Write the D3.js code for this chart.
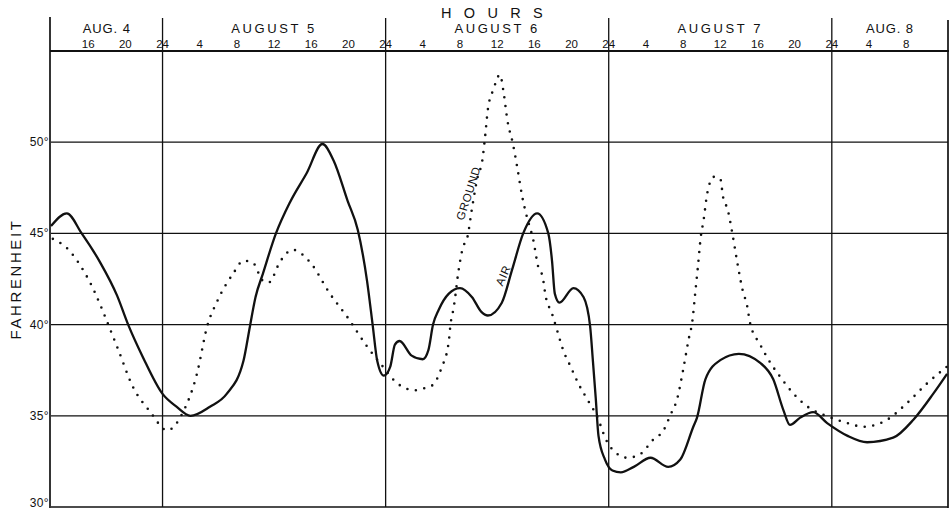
<!DOCTYPE html>
<html>
<head>
<meta charset="utf-8">
<script src="https://cdn.jsdelivr.net/npm/d3@7"></script>
<style>
  html, body { margin: 0; padding: 0; background: #fff; }
  svg { display: block; }
  text { font-family: "Liberation Sans", Arial, sans-serif; fill: #111; }
</style>
</head>
<body>
<svg id="chart" width="951" height="511"></svg>
<script>
// ---- data (hour counted from Aug 4 00:00, temperature in °F) ----
const dayLabels = ["AUG. 4", "AUGUST 5", "AUGUST 6", "AUGUST 7", "AUG. 8"];
const dayBoundaries = [24, 48, 72, 96];
const hourTicks = [16, 20, 24, 28, 32, 36, 40, 44, 48, 52, 56, 60, 64, 68, 72, 76, 80, 84, 88, 92, 96, 100, 104];
const tempTicks = [30, 35, 40, 45, 50];

const air = [
  [12, 45.4], [13.7, 46.1], [15.3, 45.0], [17.3, 43.4], [19.1, 41.6], [20.3, 40.0], [21.9, 38.2],
  [24, 36.2], [25.5, 35.5], [27, 35.0], [29.1, 35.5], [30.9, 36.2], [32.7, 38.0], [33.4, 39.9],
  [34, 41.5], [34.8, 42.8], [36.2, 45.0], [37.7, 46.7], [39.5, 48.3], [41.2, 49.9], [42.4, 49.0],
  [43.9, 46.8], [45, 45.2], [46, 42.4], [46.6, 40.0], [47.1, 38.0], [47.8, 37.2], [48.5, 37.7],
  [49, 38.9], [49.5, 39.1], [50.8, 38.3], [52, 38.1], [52.6, 38.6], [53.1, 40.0], [53.7, 40.8],
  [54.8, 41.7], [56, 42.0], [57.3, 41.5], [58.3, 40.7], [59, 40.5], [60.5, 41.2], [61.6, 43.0],
  [62.8, 45.0], [64.3, 46.1], [65.5, 45.0], [65.9, 43.5], [66.2, 41.7], [66.7, 41.2], [68.2, 42.0],
  [69.3, 41.5], [70.0, 39.9], [70.3, 38.0], [70.6, 36.0], [70.9, 33.9], [71.6, 32.6], [72.4, 32.0],
  [73.3, 31.9], [74.7, 32.2], [76.5, 32.7], [78.4, 32.2], [79.7, 32.6], [81.1, 34.4], [81.5, 34.9],
  [82.4, 37.0], [84, 38.05], [86, 38.4], [88.3, 37.9], [89.7, 37.0], [90.8, 35.3], [91.5, 34.5],
  [92.6, 34.9], [94, 35.2], [95.5, 34.6], [97.7, 33.9], [99.8, 33.55], [102.6, 33.8], [104.8, 34.8],
  [106.9, 36.2], [108.4, 37.3]
];

const ground = [
  [12.2, 44.7], [13.7, 44.2], [15.9, 42.6], [19.1, 38.8], [20.8, 36.6], [22.7, 35.2], [24.5, 34.2],
  [26.2, 35.2], [27.7, 37.3], [28.8, 39.9], [29.9, 41.3], [31.6, 42.8], [32.7, 43.5], [33.7, 43.4],
  [34.8, 42.4], [35.4, 42.3], [36.7, 43.5], [38.0, 44.1], [39.9, 43.4], [42, 41.7], [43.9, 40.4],
  [46, 38.8], [47.7, 37.7], [49.2, 36.8], [50.2, 36.5], [51.2, 36.4], [52.1, 36.5], [53.1, 36.7],
  [53.6, 37.1], [54.0, 37.6], [54.3, 38.0], [54.6, 38.5], [54.8, 39.1], [55.0, 40.1], [55.2, 40.6],
  [55.4, 41.2], [55.8, 42.8], [56.3, 44.2], [56.8, 44.8], [57.3, 46.4], [57.9, 48.1], [58.4, 49.0],
  [58.7, 50.3], [59.0, 51.8], [59.6, 52.9], [60.3, 53.7], [60.7, 52.7], [61.1, 51.2], [61.7, 49.9],
  [62.2, 48.5], [62.7, 47.0], [63.2, 45.9], [63.9, 44.6], [64.4, 43.2], [64.9, 42.6], [65.2, 41.6],
  [65.9, 40.6], [66.5, 39.6], [67.1, 38.6], [67.9, 37.7], [68.8, 36.7], [69.7, 35.9], [70.8, 34.9],
  [71.7, 33.7], [72.7, 33.0], [74, 32.7], [75.4, 32.9], [76.8, 33.7], [77.9, 34.2], [78.6, 35.0],
  [79.4, 36.0], [80, 37.5], [80.6, 39.2], [81, 40.2], [81.3, 41.7], [81.6, 43.2], [81.9, 44.8],
  [82.2, 45.7], [82.6, 47.2], [83.3, 48.1], [84, 48.0], [84.3, 47.0], [84.8, 46.3], [85.3, 45.0],
  [85.8, 43.5], [86.4, 41.9], [86.9, 41.0], [87.2, 40.1], [88.3, 38.9], [89.4, 37.9], [90.5, 37.1],
  [91.9, 36.2], [93.4, 35.5], [95.9, 34.9], [97.7, 34.6], [99.4, 34.4], [102, 34.8], [104.1, 35.7],
  [106.3, 36.8], [108.4, 37.7]
];

const seriesLabels = [
  { text: "GROUND", hour: 56.9, temp: 47.2, angle: -72 },
  { text: "AIR", hour: 60.65, temp: 42.7, angle: -66 }
];

(function draw() {
  const svg = d3.select("#chart");
  const pLeft = 51, pRight = 948, pTop = 51, pBottom = 507;
  const x = d3.scaleLinear().domain([12, 108.5]).range([pLeft, pRight]);
  const y = d3.scaleLinear().domain([30, 55]).range([pBottom, pTop]);
  const ink = "#111";

  // horizontal grid lines
  svg.append("g").selectAll("line").data(tempTicks).join("line")
    .attr("x1", pLeft).attr("x2", pRight)
    .attr("y1", d => y(d)).attr("y2", d => y(d))
    .attr("stroke", ink).attr("stroke-width", d => d === 30 ? 1.6 : 1.2);

  // header line
  svg.append("line").attr("x1", pLeft - 1).attr("x2", pRight + 1)
    .attr("y1", pTop).attr("y2", pTop).attr("stroke", ink).attr("stroke-width", 1.8);

  // frame verticals
  svg.append("line").attr("x1", pLeft - 1).attr("x2", pLeft - 1).attr("y1", 17).attr("y2", pBottom + 1)
    .attr("stroke", ink).attr("stroke-width", 1.7);
  svg.append("line").attr("x1", pRight).attr("x2", pRight).attr("y1", 20).attr("y2", pBottom + 1)
    .attr("stroke", ink).attr("stroke-width", 1.7);

  // day boundaries
  svg.append("g").selectAll("line").data(dayBoundaries).join("line")
    .attr("x1", d => x(d)).attr("x2", d => x(d))
    .attr("y1", 18).attr("y2", pBottom)
    .attr("stroke", ink).attr("stroke-width", 1.3);

  // y tick labels
  svg.append("g").selectAll("text").data(tempTicks).join("text")
    .attr("x", pLeft - 2).attr("y", d => Math.min(y(d) + 4, 507))
    .attr("text-anchor", "end").attr("font-size", 12).attr("letter-spacing", 0.4)
    .text(d => d + "°");

  // y title
  svg.append("text")
    .attr("transform", "translate(21,279) rotate(-90)")
    .attr("text-anchor", "middle").attr("font-size", 15).attr("letter-spacing", 2.6)
    .text("FAHRENHEIT");

  // hour tick labels
  svg.append("g").selectAll("text").data(hourTicks).join("text")
    .attr("x", d => x(d)).attr("y", 48)
    .attr("text-anchor", "middle").attr("font-size", 11.5)
    .text(d => (d % 24 === 0 ? 24 : d % 24));

  // day labels
  const [d0, d1] = x.domain();
  svg.append("g").selectAll("text").data(dayLabels).join("text")
    .attr("x", (d, i) => x((Math.max(d0, i * 24) + Math.min(d1, (i + 1) * 24)) / 2))
    .attr("y", 33)
    .attr("text-anchor", "middle").attr("font-size", 13)
    .attr("letter-spacing", d => d.startsWith("AUGUST") ? 2.6 : 0.9)
    .text(d => d);

  // title
  svg.append("text").attr("x", 498).attr("y", 18)
    .attr("text-anchor", "middle").attr("font-size", 14.5).attr("letter-spacing", 12.3)
    .text("HOURS");

  // curves
  const line = d3.line().x(d => x(d[0])).y(d => y(d[1])).curve(d3.curveMonotoneX);

  svg.append("path").datum(ground).attr("d", line)
    .attr("fill", "none").attr("stroke", ink).attr("stroke-width", 2.6)
    .attr("stroke-linecap", "round").attr("stroke-dasharray", "0 8.6");

  svg.append("path").datum(air).attr("d", line)
    .attr("fill", "none").attr("stroke", ink).attr("stroke-width", 2.3)
    .attr("stroke-linejoin", "round");

  // series labels
  svg.append("g").selectAll("text").data(seriesLabels).join("text")
    .attr("transform", d => `translate(${x(d.hour)},${y(d.temp)}) rotate(${d.angle})`)
    .attr("text-anchor", "middle").attr("dy", "0.35em")
    .attr("font-size", 11.5).attr("letter-spacing", 0.8)
    .text(d => d.text);
})();
</script>
</body>
</html>
